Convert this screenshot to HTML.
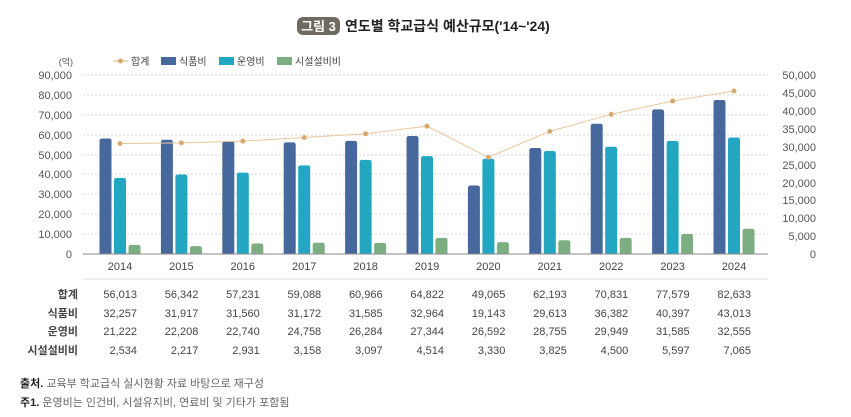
<!DOCTYPE html>
<html><head><meta charset="utf-8"><style>
body{margin:0;background:#fff;}
svg{display:block;font-family:"Liberation Sans","Noto Sans CJK KR",sans-serif;}
</style></head><body>
<svg width="851" height="417" viewBox="0 0 851 417" xmlns="http://www.w3.org/2000/svg">
<rect x="297" y="17" width="43" height="18" rx="6" fill="#6f6a60"/>
<text x="318.5" y="31" font-size="13" font-weight="bold" fill="#fff" text-anchor="middle">그림 3</text>
<text x="345" y="31" font-size="14" font-weight="bold" fill="#222">연도별 학교급식 예산규모('14~'24)</text>
<text x="73" y="65" font-size="9" fill="#555" text-anchor="end">(억)</text>
<line x1="113" y1="61" x2="128" y2="61" stroke="#e3bd8c" stroke-width="1.2"/><circle cx="120.5" cy="61" r="2.5" fill="#d9aa70"/>
<text x="131" y="65" font-size="10" fill="#444">합계</text>
<rect x="161" y="57" width="15" height="8" fill="#46689c"/><text x="179" y="65" font-size="10" fill="#444">식품비</text>
<rect x="219" y="57" width="15" height="8" fill="#22a6c1"/><text x="237" y="65" font-size="10" fill="#444">운영비</text>
<rect x="277" y="57" width="15" height="8" fill="#7dae82"/><text x="295" y="65" font-size="10" fill="#444">시설설비비</text>
<g stroke="#c8c8c8" stroke-dasharray="2,2" stroke-width="0.8">
<line x1="83" y1="75" x2="768" y2="75"/><line x1="83" y1="95" x2="768" y2="95"/><line x1="83" y1="115" x2="768" y2="115"/><line x1="83" y1="135" x2="768" y2="135"/><line x1="83" y1="155" x2="768" y2="155"/><line x1="83" y1="174" x2="768" y2="174"/><line x1="83" y1="194" x2="768" y2="194"/><line x1="83" y1="214" x2="768" y2="214"/><line x1="83" y1="234" x2="768" y2="234"/>
</g>
<g font-size="11" fill="#555" text-anchor="end">
<text x="72" y="79">90,000</text><text x="72" y="99">80,000</text><text x="72" y="119">70,000</text><text x="72" y="139">60,000</text><text x="72" y="159">50,000</text><text x="72" y="178">40,000</text><text x="72" y="198">30,000</text><text x="72" y="218">20,000</text><text x="72" y="238">10,000</text><text x="72" y="258">0</text>
<text x="816" y="79">50,000</text><text x="816" y="97">45,000</text><text x="816" y="115">40,000</text><text x="816" y="133">35,000</text><text x="816" y="151">30,000</text><text x="816" y="169">25,000</text><text x="816" y="187">20,000</text><text x="816" y="204">15,000</text><text x="816" y="222">10,000</text><text x="816" y="240">5,000</text><text x="816" y="258">0</text>
</g>
<g id="bars"></g>
<line x1="83" y1="254" x2="768" y2="254" stroke="#888" stroke-width="1"/>
<polyline id="ln" fill="none" stroke="#e8c79c" stroke-width="1"/>
<g id="dots" fill="#d9aa70"></g>
<g id="yrs" font-size="11" fill="#444" text-anchor="middle"></g>
<line x1="83" y1="279" x2="768" y2="279" stroke="#ddd" stroke-width="1"/>
<g id="tbl" font-size="11" fill="#444" text-anchor="end"></g>
<g font-size="11" fill="#444" font-weight="bold" text-anchor="end">
<text x="78" y="298">합계</text><text x="78" y="317">식품비</text><text x="78" y="335">운영비</text><text x="78" y="354">시설설비비</text>
</g>
<text x="20" y="387" font-size="11" fill="#666"><tspan font-weight="bold" fill="#222">출처.</tspan> 교육부 학교급식 실시현황 자료 바탕으로 재구성</text>
<text x="20" y="406" font-size="11" fill="#666"><tspan font-weight="bold" fill="#222">주1.</tspan> 운영비는 인건비, 시설유지비, 연료비 및 기타가 포함됨</text>
</svg>
<script>
const T=[56013,56342,57231,59088,60966,64822,49065,62193,70831,77579,82633];
const F=[32257,31917,31560,31172,31585,32964,19143,29613,36382,40397,43013];
const O=[21222,22208,22740,24758,26284,27344,26592,28755,29949,31585,32555];
const S=[2534,2217,2931,3158,3097,4514,3330,3825,4500,5597,7065];
const ns="http://www.w3.org/2000/svg";
function el(t,a,p,txt){const e=document.createElementNS(ns,t);for(const k in a)e.setAttribute(k,a[k]);if(txt!=null)e.textContent=txt;document.getElementById(p).appendChild(e);return e;}
function bar(x,v,c){const h=v/50000*179,y=254-h,w=12,r=2.5;
el("path",{d:`M${x},254 V${y+r} Q${x},${y} ${x+r},${y} H${x+w-r} Q${x+w},${y} ${x+w},${y+r} V254 Z`,fill:c},"bars");}
let pts=[];const f=n=>n.toLocaleString("en-US");
for(let i=0;i<11;i++){const cx=120+i*61.4;
bar(cx-20.5,F[i],"#46689c");bar(cx-6,O[i],"#22a6c1");bar(cx+8.5,S[i],"#7dae82");
const ly=254-T[i]/90000*177.5;pts.push(cx+","+ly);el("circle",{cx:cx,cy:ly,r:2.5},"dots");
el("text",{x:cx,y:270},"yrs",2014+i);
[T,F,O,S].forEach((a,j)=>el("text",{x:cx+17,y:[298,317,335,354][j]},"tbl",f(a[i])));}
document.getElementById("ln").setAttribute("points",pts.join(" "));
</script>
</body></html>
